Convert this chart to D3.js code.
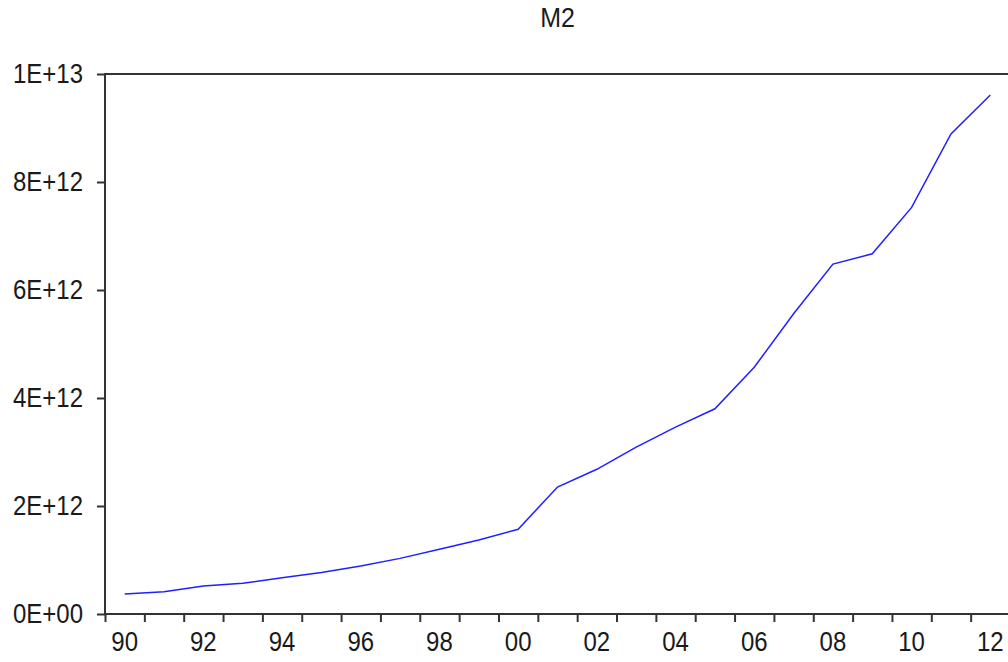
<!DOCTYPE html>
<html>
<head>
<meta charset="utf-8">
<script src="https://cdn.jsdelivr.net/npm/d3@7"></script>
<style>
  body { margin: 0; background: #fff; }
  svg { display: block; }
  text { font-family: "Liberation Sans", Arial, sans-serif; fill: #1a1a1a; }
</style>
</head>
<body>
<div id="chart"></div>
<script>
// M2 money supply, annual
const years = [1990, 1991, 1992, 1993, 1994, 1995, 1996, 1997, 1998, 1999, 2000, 2001,
               2002, 2003, 2004, 2005, 2006, 2007, 2008, 2009, 2010, 2011, 2012];
const m2 = [3.7e11, 4.1e11, 5.2e11, 5.7e11, 6.7e11, 7.7e11, 8.9e11, 1.03e12, 1.2e12, 1.37e12, 1.57e12, 2.35e12,
            2.68e12, 3.09e12, 3.46e12, 3.80e12, 4.57e12, 5.56e12, 6.48e12, 6.67e12, 7.53e12, 8.89e12, 9.61e12];
const yTicks = [0, 2e12, 4e12, 6e12, 8e12, 1e13];
const yTickLabels = ["0E+00", "2E+12", "4E+12", "6E+12", "8E+12", "1E+13"];
const xLabelYears = [1990, 1992, 1994, 1996, 1998, 2000, 2002, 2004, 2006, 2008, 2010, 2012];

const width = 1008, height = 662;
const margin = {left: 105, top: 74, right: -2, bottom: 48};
const stretch = 1.12; // the reference glyphs are a bit taller than wide

const svg = d3.select('#chart').append('svg')
    .attr('width', width)
    .attr('height', height);

// year boundaries on x, observations plotted at mid-year
const x = d3.scaleLinear()
    .domain([1990, 2013])
    .range([margin.left, width - margin.right]);

const y = d3.scaleLinear()
    .domain([0, 1e13])
    .range([height - margin.bottom, margin.top]);

// title
svg.append('text')
    .attr('transform', `translate(${(x(1990) + x(2013)) / 2},27) scale(1,${stretch})`)
    .attr('text-anchor', 'middle')
    .style('font-size', '25px')
    .text('M2');

// y axis ticks and labels
const yAxis = d3.axisLeft(y)
    .tickValues(yTicks)
    .tickFormat((d, i) => yTickLabels[i])
    .tickSize(8)
    .tickPadding(14);

const gy = svg.append('g')
    .attr('transform', `translate(${margin.left},0)`)
    .call(yAxis);
gy.select('.domain').remove();
gy.selectAll('line').attr('stroke', '#333').attr('stroke-width', 2);
gy.selectAll('text')
    .attr('transform', `translate(-22,0) scale(1,${stretch})`)
    .attr('x', 0)
    .style('font-size', '24px')
    .style('font-family', '"Liberation Sans", Arial, sans-serif')
    .attr('fill', '#1a1a1a');

// x axis: ticks at every year boundary, labels every other year in the middle
const gx = svg.append('g')
    .attr('transform', `translate(0,${y(0)})`)
    .call(d3.axisBottom(x)
        .tickValues(d3.range(1990, 2013))
        .tickFormat('')
        .tickSize(8));
gx.select('.domain').remove();
gx.selectAll('line').attr('stroke', '#333').attr('stroke-width', 2);

svg.append('g').selectAll('text')
    .data(xLabelYears)
    .enter().append('text')
    .attr('transform', d => `translate(${x(d + 0.5)},${y(0) + 37}) scale(1,${stretch})`)
    .attr('text-anchor', 'middle')
    .style('font-size', '24px')
    .text(d => String(d % 100).padStart(2, '0'));

// frame
svg.append('rect')
    .attr('x', x(1990))
    .attr('y', y(1e13))
    .attr('width', x(2013) - x(1990))
    .attr('height', y(0) - y(1e13))
    .attr('fill', 'none')
    .attr('stroke', '#333')
    .attr('stroke-width', 2);

// series line
const line = d3.line()
    .x((d, i) => x(years[i] + 0.5))
    .y(d => y(d));

svg.append('path')
    .datum(m2)
    .attr('d', line)
    .attr('fill', 'none')
    .attr('stroke', '#2020ff')
    .attr('stroke-width', 1.5);
</script>
</body>
</html>
